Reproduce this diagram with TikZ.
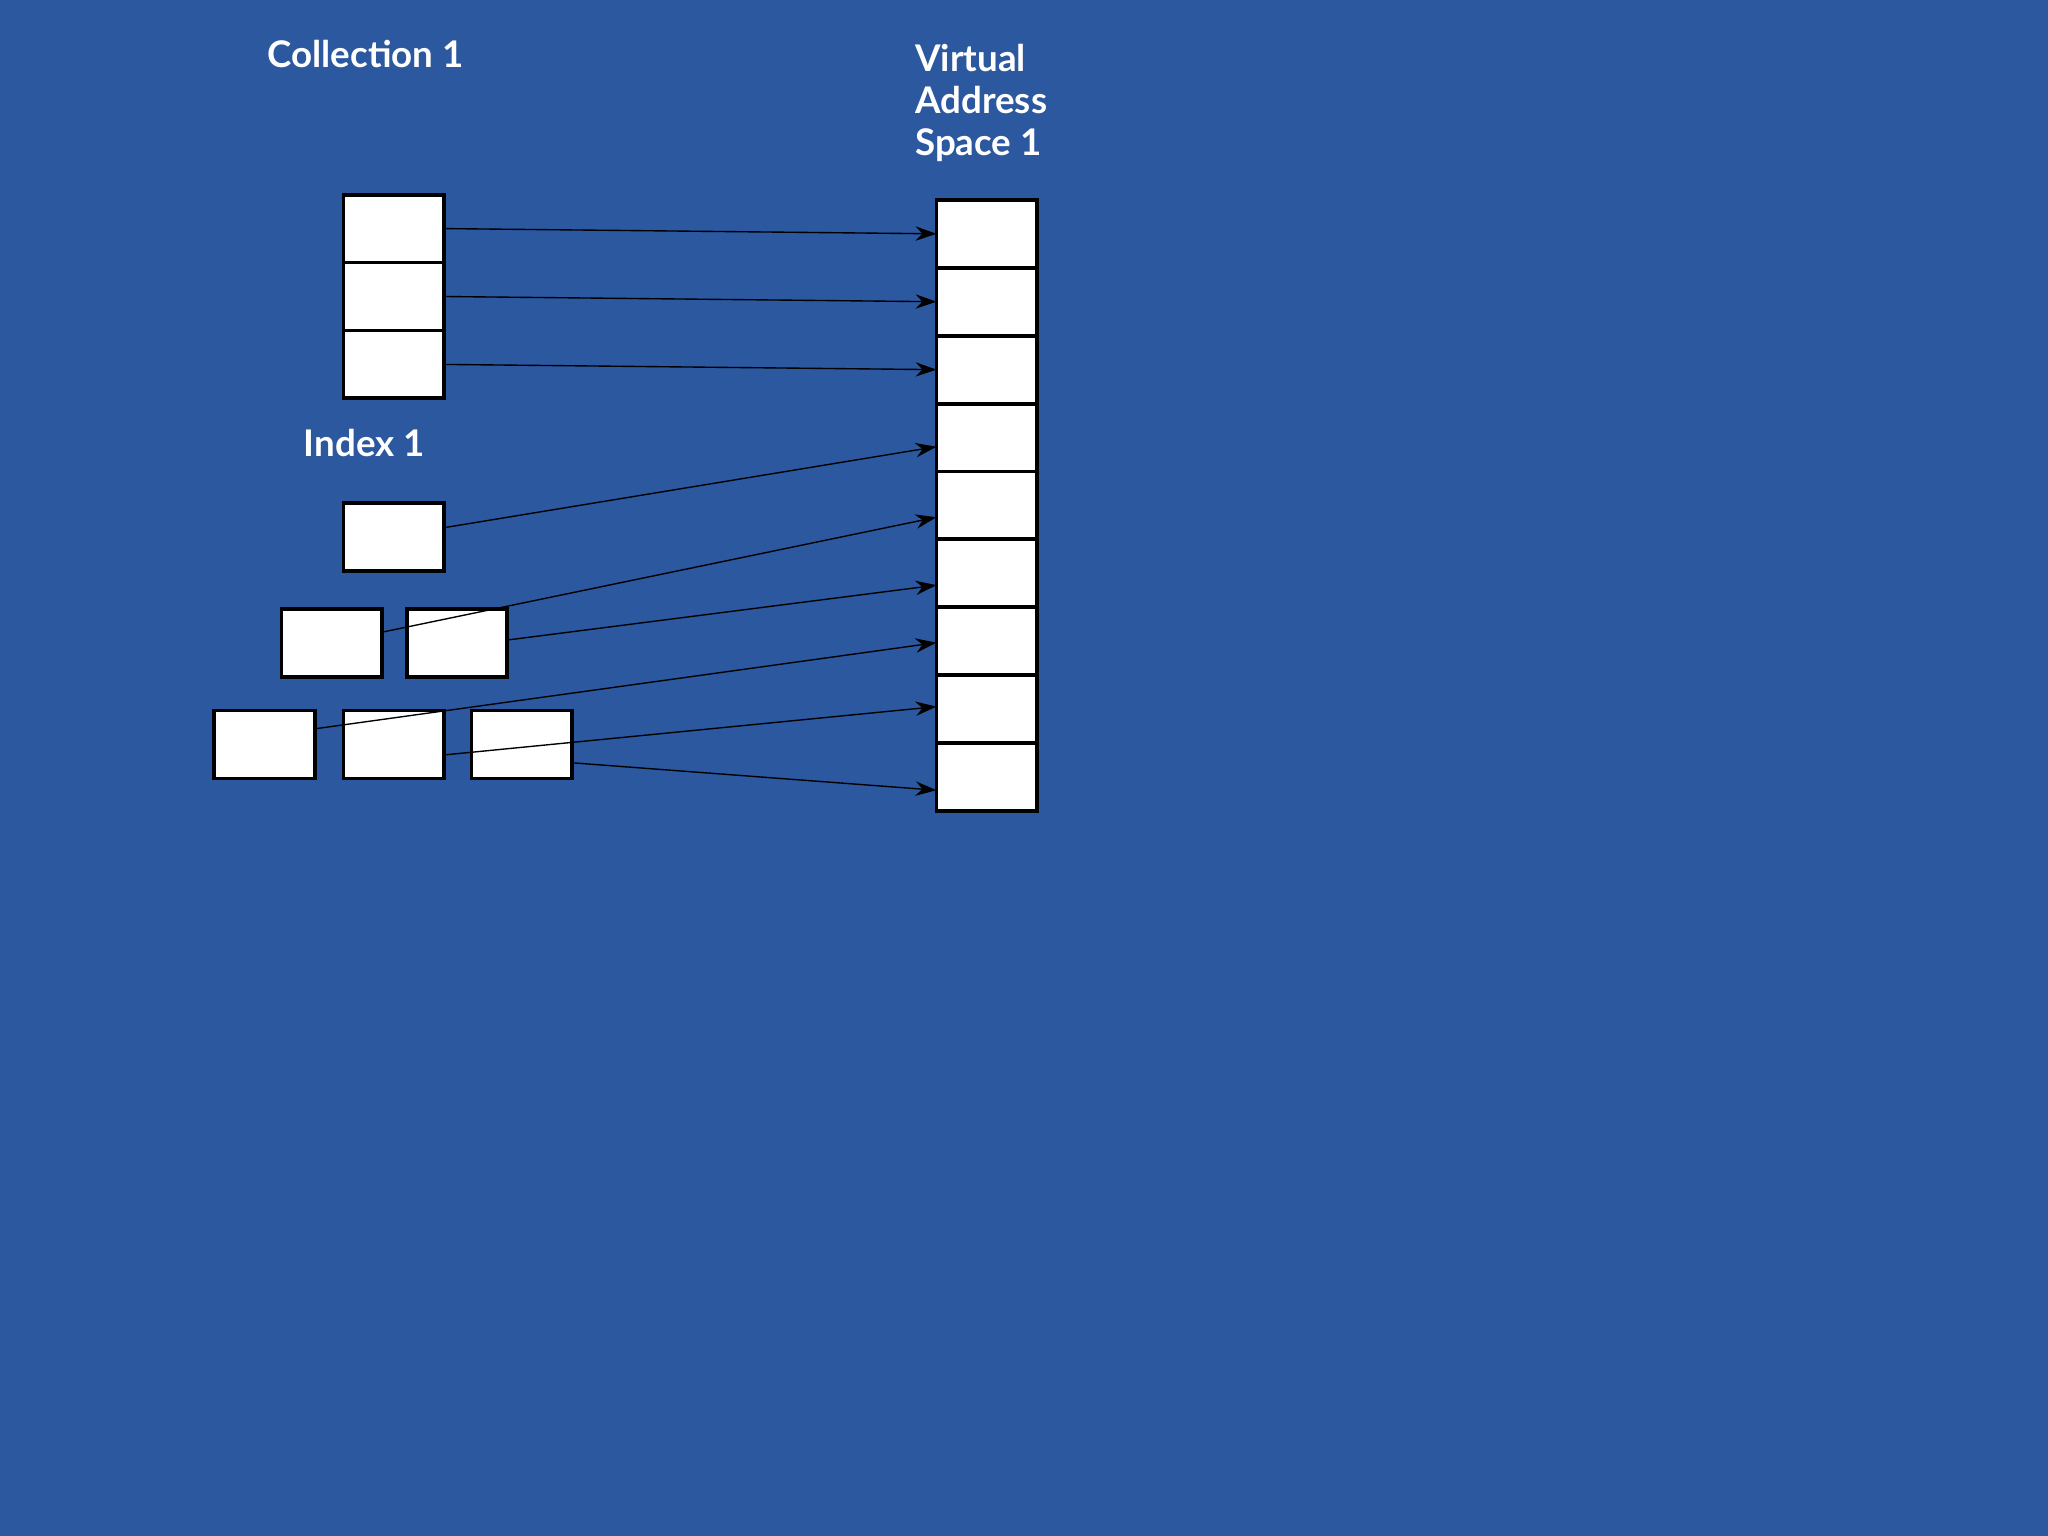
\documentclass[tikz,border=0pt]{standalone}
\usepackage{fontspec}
\setmainfont{Lato}
\usetikzlibrary{calc,arrows.meta}
\definecolor{bg}{HTML}{2B589E}
\begin{document}
\begin{tikzpicture}[x=0.1mm,y=-0.1mm,
  cell/.style={draw=black,fill=white,line width=0.85pt,minimum width=7.7mm,minimum height=5.2mm,inner sep=0,outer sep=0},
  link/.style={line width=0.3pt,-{Stealth[length=1.6mm,width=1.1mm]}},
  lbl/.style={text=white,font=\bfseries\fontsize{8}{9.1}\selectfont,inner sep=0,anchor=west,align=left}]
\fill[bg] (0,0) rectangle (1568,1176);
\useasboundingbox (0,0) rectangle (1568,1176);
\node[lbl] (tc) at (204,41) {Collection 1};
\node[lbl] (ti) at (232,339) {Index 1};
\node[lbl] (tv) at (700,79) {Virtual\\Address\\Space 1};
\foreach \i/\y in {1/175,2/227,3/279} \node[cell] (c\i) at (301.5,\y) {};
\foreach \i in {1,...,9} \node[cell] (v\i) at (755.5,{179+52*(\i-1)}) {};
\node[cell] (r) at (301.5,411) {};
\node[cell] (a) at (254,492) {};
\node[cell] (b) at (350,492) {};
\node[cell] (p) at (202.5,570) {};
\node[cell] (q) at (301.5,570) {};
\node[cell] (s) at (399.5,570) {};
\draw[link] (c1.east) -- (v1.west);
\draw[link] (c2.east) -- (v2.west);
\draw[link] (c3.east) -- (v3.west);
\draw[link] ($(r.east)+(0,-7)$) -- ($(v4.west)+(0,7)$);
\draw[link] ($(a.east)+(0,-8)$) -- ($(v5.west)+(0,9)$);
\draw[link] ($(b.east)+(0,-2)$) -- ($(v6.west)+(0,9)$);
\draw[link] ($(p.east)+(0,-12)$) -- ($(v7.west)+(0,1)$);
\draw[link] ($(q.east)+(0,8)$) -- ($(v8.west)+(0,-2)$);
\draw[link] ($(s.east)+(0,14)$) -- ($(v9.west)+(0,10)$);
\end{tikzpicture}
\end{document}
